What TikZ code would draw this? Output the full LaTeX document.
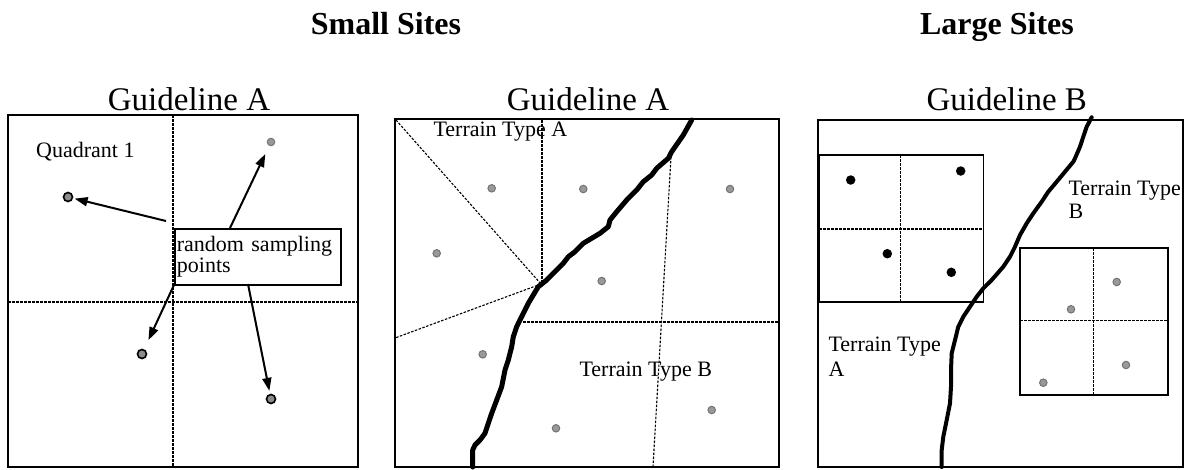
\documentclass[tikz,border=0pt]{standalone}
\usepackage{fontspec}
\setmainfont{Liberation Serif}
\usetikzlibrary{arrows.meta}
\begin{document}
\begin{tikzpicture}[x=1pt,y=-1pt,
  frame/.style={draw=black,line width=2.3pt},
  subframe/.style={draw=black,line width=1.8pt},
  divider/.style={line width=1.1pt,dash pattern=on 2.5pt off 1.5pt},
  boundary/.style={line width=5pt,line join=round,line cap=round},
  ptarrow/.style={line width=2pt,-{Triangle[length=13pt,width=9pt]}},
  sdot/.style={circle,inner sep=0pt,minimum size=9pt,fill=black!45,draw=black,line width=1.6pt},
  ldot/.style={circle,inner sep=0pt,minimum size=7.5pt,fill=black!40,draw=black!55,line width=1pt},
  gdot/.style={circle,inner sep=0pt,minimum size=7.5pt,fill=black!40,draw=black!55,line width=1pt},
  bdot/.style={circle,inner sep=0pt,minimum size=9.5pt,fill=black},
  lbl/.style={font=\fontsize{22}{22}\selectfont,inner sep=0pt,anchor=base west},
  gtitle/.style={font=\fontsize{33}{33}\selectfont,inner sep=0pt,anchor=base},
  htitle/.style={font=\bfseries\fontsize{32}{32}\selectfont,inner sep=0pt,anchor=base},
]
\useasboundingbox (0,0) rectangle (1186,469);

% headings
\node[htitle] (small) at (386,34) {Small Sites};
\node[htitle] (large) at (997,34) {Large Sites};
\node[gtitle] (gA1) at (189,110) {Guideline A};
\node[gtitle] (gA2) at (588,110) {Guideline A};
\node[gtitle] (gB) at (1006.7,110) {Guideline B};

% ---------- left panel ----------
\draw[frame] (8,115) rectangle (358,467);
\draw[divider] (173,115) -- (173,467);
\draw[divider] (8,302) -- (358,302);
\node[lbl] (q1) at (36,157) {Quadrant 1};
\node[draw,line width=1.8pt,fill=white,anchor=north west,inner xsep=2pt,inner ysep=0pt,
      minimum height=56pt,text width=162pt,align=left,
      font=\fontsize{22}{21.5}\selectfont] (rsp) at (174,228) {random sampling\\points};
\node[sdot] (p1) at (68,197) {};
\node[ldot] (p2) at (271,142) {};
\node[sdot] (p3) at (142,354) {};
\node[sdot] (p4) at (271,399) {};
\coordinate (s1) at (166,221);
\coordinate (s2) at (230,228);
\coordinate (s3) at (174,285);
\coordinate (s4) at (248,284);
\draw[ptarrow,shorten >=1.5pt] (s1) -- (p1);
\draw[ptarrow,shorten >=9pt] (s2) -- (p2);
\draw[ptarrow,shorten >=10pt] (s3) -- (p3);
\draw[ptarrow,shorten >=3pt] (s4) -- (p4);

% ---------- middle panel ----------
\draw[frame] (395,119) rectangle (779,467);
\coordinate (mv) at (541,284);
\draw[divider] (396,120) -- (mv);
\draw[divider] (542,120) -- (542,284);
\draw[divider] (mv) -- (395,338);
\draw[divider] (523,322) -- (779,322);
\draw[divider] (671,157) -- (653,467);
\node[gdot] (m1) at (491.7,188.3) {};
\node[gdot] (m2) at (583.3,189) {};
\node[gdot] (m3) at (730,189) {};
\node[gdot] (m4) at (436.7,253.3) {};
\node[gdot] (m5) at (601.7,281) {};
\node[gdot] (m6) at (482.7,354.3) {};
\node[gdot] (m7) at (556,428.3) {};
\node[gdot] (m8) at (711.7,410) {};
\node[lbl] (mtA) at (433.3,136.7) {Terrain Type A};
\node[lbl] (mtB) at (579.3,376.7) {Terrain Type B};
\draw[boundary] (691.7,120) -- (683.3,135) -- (671.7,151.7) -- (668.3,158.3) -- (656.7,168.3)
  -- (651.7,175) -- (643.3,181.7) -- (636.7,190) -- (626.7,200) -- (616.7,211.7) -- (610,220)
  -- (608.3,226.7) -- (600,233.3) -- (590,239.3) -- (583.3,243.3) -- (575,251.7) -- (568.3,256.7)
  -- (563.3,263.3) -- (555,271.7) -- (546.7,280) -- (538.3,286.7) -- (533.3,295) -- (528.3,303.3)
  -- (523.3,313.3) -- (516.7,326.7) -- (513.3,336.7) -- (511.7,346.7) -- (508.3,360) -- (505,370)
  -- (501.7,386.7) -- (496.7,400) -- (491.7,413.3) -- (488.3,423.3) -- (485,433.3) -- (480,440)
  -- (475,445) -- (472.7,450) -- (472.7,467);

% ---------- right panel ----------
\draw[frame] (818,120) rectangle (1183,467);
\draw[subframe] (819,155) rectangle (983.5,302);
\draw[divider] (900.7,155) -- (900.7,302);
\draw[divider] (819,229) -- (983.5,229);
\draw[subframe] (1020,248) rectangle (1168,395);
\draw[divider] (1093.3,248) -- (1093.3,395);
\draw[divider] (1020,320.7) -- (1168,320.7);
\node[bdot] (b1) at (850.7,180) {};
\node[bdot] (b2) at (960.7,171) {};
\node[bdot] (b3) at (887.3,253.7) {};
\node[bdot] (b4) at (951.3,272.3) {};
\node[gdot] (r1) at (1116.7,282) {};
\node[gdot] (r2) at (1071,309.3) {};
\node[gdot] (r3) at (1126,365) {};
\node[gdot] (r4) at (1043.3,382.7) {};
\node[lbl] (rtB1) at (1068.3,195) {Terrain Type};
\node[lbl] (rtB2) at (1068.3,218.3) {B};
\node[lbl] (rtA1) at (828.3,351.7) {Terrain Type};
\node[lbl] (rtA2) at (828.3,376) {A};
\draw[boundary,line width=4pt] (1091.7,117.3) -- (1086.7,126.7) -- (1083.3,136.7) -- (1080,146.7)
  -- (1075,158.3) -- (1073.3,161.7) -- (1065,171.7) -- (1056.7,181.7) -- (1048.3,191.7)
  -- (1041.7,201.7) -- (1033.3,213.3) -- (1026.7,223.3) -- (1020,235) -- (1015,246.7) -- (1010,256.7)
  -- (1003.3,266.7) -- (991.7,280) -- (983.3,288.3) -- (976.7,296.7) -- (970,306.7) -- (963.3,316.7)
  -- (958.3,326.7) -- (955,340) -- (951.7,353.3) -- (951,370) -- (951,386.7) -- (950,403.3)
  -- (946.7,420) -- (943.3,436.7) -- (941.7,450) -- (941.7,467);
\end{tikzpicture}
\end{document}
